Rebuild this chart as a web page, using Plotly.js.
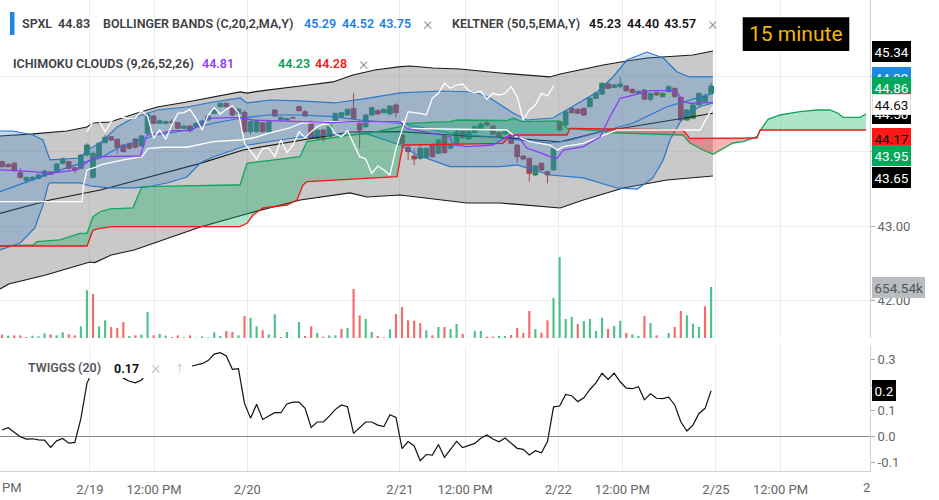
<!DOCTYPE html>
<html><head><meta charset="utf-8">
<script src="https://cdn.plot.ly/plotly-3.0.1.min.js"></script>
<style>html,body{margin:0;padding:0;background:#fff;}#chart{width:939px;height:500px;}</style>
</head><body><div id="chart"></div>
<script>
// ---- bar data (15 minute bars, index 0..117) ----
const open = [43.861,43.825,43.839,43.714,43.607,43.616,43.638,43.669,43.723,43.727,
43.839,43.861,43.781,43.772,43.950,43.651,43.928,44.115,44.196,44.160,
44.084,44.107,44.165,44.071,44.240,44.472,44.374,44.374,44.397,44.383,
44.307,44.338,44.330,44.352,44.419,44.508,44.597,44.642,44.584,44.508,
44.521,44.263,44.263,44.383,44.263,44.553,44.419,44.419,44.450,44.597,
44.530,44.397,44.173,44.285,44.196,44.397,44.463,44.486,44.575,44.374,
44.330,44.486,44.544,44.517,44.499,44.620,44.218,44.053,43.937,43.906,
43.919,44.084,43.973,44.196,44.040,44.107,44.263,44.165,44.249,44.307,
44.383,44.338,44.249,44.231,44.218,44.084,43.937,43.906,43.683,43.839,
43.727,43.750,44.397,44.352,44.575,44.562,44.575,44.597,44.709,44.767,
44.901,44.856,44.865,44.874,44.829,44.776,44.820,44.696,44.789,44.731,
44.798,44.843,44.722,44.419,44.441,44.620,44.664,44.776];
const high = [43.874,43.839,43.857,43.772,43.660,43.669,43.714,43.758,43.736,43.839,
43.919,43.874,43.794,43.959,44.107,43.995,44.129,44.218,44.205,44.173,
44.098,44.115,44.173,44.218,44.508,44.486,44.428,44.410,44.428,44.397,
44.347,44.352,44.397,44.419,44.486,44.575,44.651,44.651,44.597,44.575,
44.553,44.419,44.419,44.397,44.410,44.562,44.463,44.450,44.463,44.606,
44.553,44.410,44.294,44.307,44.365,44.517,44.530,44.575,44.776,44.419,
44.495,44.597,44.562,44.575,44.606,44.642,44.231,44.084,44.040,44.084,
44.053,44.107,44.173,44.218,44.098,44.285,44.272,44.272,44.352,44.397,
44.405,44.352,44.263,44.294,44.231,44.093,43.950,43.919,43.817,43.848,
43.741,44.071,44.410,44.544,44.588,44.575,44.588,44.722,44.794,44.919,
44.910,44.901,45.000,44.883,44.838,44.810,44.829,44.785,44.798,44.785,
44.887,44.852,44.731,44.562,44.633,44.785,44.776,44.919];
const low = [43.781,43.785,43.727,43.629,43.571,43.607,43.625,43.660,43.683,43.714,
43.825,43.758,43.705,43.763,43.928,43.638,43.919,44.107,44.138,43.973,
43.986,44.026,44.040,44.062,44.231,44.365,44.365,44.365,44.374,44.298,
44.298,44.249,44.321,44.343,44.410,44.499,44.588,44.588,44.477,44.499,
44.249,44.218,44.249,44.249,44.249,44.463,44.410,44.410,44.437,44.535,
44.463,44.165,44.151,44.129,44.187,44.383,44.455,44.477,44.419,44.040,
44.307,44.477,44.490,44.508,44.486,44.455,44.098,43.883,43.817,43.883,
43.906,43.915,43.964,43.964,44.026,44.084,44.169,44.151,44.240,44.298,
44.330,44.223,44.187,44.218,44.098,43.848,43.883,43.593,43.669,43.736,
43.571,43.741,44.276,44.338,44.508,44.499,44.472,44.588,44.700,44.754,
44.834,44.847,44.843,44.803,44.776,44.767,44.687,44.664,44.745,44.722,
44.789,44.722,44.397,44.410,44.432,44.611,44.651,44.767];
const close = [43.794,43.794,43.741,43.651,43.651,43.651,43.683,43.736,43.692,43.830,
43.897,43.772,43.750,43.950,44.084,43.973,44.107,44.187,44.151,44.053,
43.995,44.040,44.053,44.205,44.495,44.374,44.410,44.397,44.383,44.307,
44.338,44.276,44.374,44.405,44.472,44.562,44.642,44.597,44.486,44.562,
44.263,44.397,44.405,44.263,44.397,44.472,44.455,44.437,44.446,44.544,
44.472,44.173,44.285,44.160,44.352,44.508,44.517,44.562,44.441,44.285,
44.486,44.584,44.499,44.562,44.606,44.517,44.107,43.995,43.897,44.040,
44.040,43.928,44.151,43.982,44.084,44.263,44.182,44.263,44.330,44.365,
44.352,44.231,44.196,44.276,44.107,43.928,43.897,43.705,43.803,43.750,
43.683,44.040,44.285,44.530,44.517,44.508,44.486,44.709,44.776,44.910,
44.843,44.887,44.901,44.810,44.785,44.803,44.696,44.776,44.754,44.776,
44.865,44.731,44.419,44.553,44.620,44.776,44.740,44.874];
// volume in thousands, and up(1)/down(0) colouring
const volumeK = [43,30,34,34,13,30,21,60,47,34, 73,47,34,150,612,565,150,227,141,128,
205,26,34,43,334,34,51,30,13,34, 9,34,4,21,9,73,26,90,77,34,
282,257,150,98,47,304,13,77,4,205, 26,150,64,17,34,34,116,128,629,291,
244,77,26,9,111,308,398,227,222,193, 98,34,141,141,116,180,51,4,90,90,
17,17,26,26,38,128,64,347,116,68, 227,513,1040,244,270,180,218,244,90,261,
116,154,222,64,47,26,282,193,34,4, 64,141,347,291,184,141,406,654.54];
const volUp = [0,1,0,0,0,1,1,1,0,1, 1,0,0,1,1,0,1,1,0,0, 0,1,0,1,1,0,1,1,0,0,
1,0,1,1,1,1,1,0,0,1, 0,1,1,0,1,1,0,1,1,1, 0,0,1,0,1,1,0,1,0,0,
1,1,0,0,1,0,0,0,0,0, 1,0,1,0,1,1,0,1,1,1, 0,0,1,1,0,0,0,0,1,0,
0,1,1,1,1,0,1,1,1,1, 0,1,1,0,1,1,0,1,0,1, 1,0,0,1,1,1,0,1];
const twiggs = [0.026,0.035,0.017,0.0,-0.009,-0.008,-0.012,-0.013,-0.041,-0.016,
-0.007,-0.025,-0.022,0.07,0.207,0.26,0.28,0.29,0.27,0.25,
0.227,0.215,0.209,0.22,0.25,0.26,0.27,0.265,0.26,0.255,
0.26,0.272,0.278,0.283,0.295,0.32,0.326,0.313,0.261,0.264,
0.129,0.072,0.126,0.067,0.080,0.093,0.093,0.127,0.134,0.134,
0.110,0.036,0.057,0.057,0.080,0.106,0.123,0.116,0.013,0.036,
0.057,0.057,0.045,0.039,0.085,0.075,-0.046,-0.019,-0.036,-0.093,
-0.069,-0.071,-0.030,-0.080,-0.051,-0.018,-0.042,-0.033,-0.026,-0.006,
0.007,-0.009,-0.020,-0.005,-0.026,-0.045,-0.049,-0.071,-0.054,-0.062,
-0.019,0.116,0.119,0.164,0.159,0.136,0.151,0.183,0.209,0.246,
0.222,0.246,0.213,0.188,0.186,0.194,0.143,0.166,0.149,0.148,
0.153,0.123,0.058,0.022,0.045,0.090,0.110,0.178];

// ---- indicator polylines (x in bar index, y in price) ----
const keltUpX = [-0.35,5.1,10.7,14.0,15.0,17.8,22.3,25.6,30.5,33.8,39.3,40.4,43.7,49.2,54.6,57.9,61.5,65.7,67.3,71.1,75.6,82.2,90.4,92.1,99.2,103.1,106.4,114.0,117.3];
const keltUpY = [44.205,44.232,44.272,44.325,44.379,44.392,44.513,44.593,44.66,44.714,44.794,44.78,44.82,44.874,44.928,45.021,45.088,45.133,45.142,45.115,45.102,45.048,44.995,45.035,45.155,45.209,45.249,45.289,45.343];
const keltMidX = [-0.35,7.9,16.2,24.4,32.7,39.8,49.2,57.4,65.7,76.7,82.2,92.1,98.7,104.1,112.4,117.3];
const keltMidY = [43.17,43.348,43.482,43.66,43.839,44.017,44.151,44.258,44.262,44.205,44.187,44.128,44.262,44.329,44.442,44.509];
const keltLoX = [-0.35,1.1,7.2,14.5,15.3,18.0,21.8,32.7,40.9,49.2,57.4,60.2,65.7,76.7,82.2,92.1,95.9,102.5,109.7,117.3];
const keltLoY = [42.157,42.224,42.344,42.518,42.511,42.612,42.679,42.987,43.174,43.348,43.442,43.388,43.415,43.308,43.308,43.241,43.348,43.509,43.616,43.669];
const bbUpX = [-0.35,1.8,5.1,6.75,7.9,12.9,14.0,16.2,19.0,21.6,25.6,30.5,34.8,39.3,40.4,44.2,49.2,54.9,60.7,65.7,72.3,78.0,80.5,84.3,86.6,90.9,93.7,98.2,100.8,103.1,106.4,109.1,111.4,113.5,117.3];
const bbUpY = [44.272,44.272,44.218,44.151,43.884,43.91,44.017,44.111,44.325,44.446,44.553,44.593,44.66,44.714,44.647,44.687,44.674,44.647,44.714,44.781,44.807,44.794,44.714,44.513,44.419,44.446,44.58,44.794,44.995,45.222,45.329,45.249,45.061,44.995,44.995];
const bbLoX = [-0.35,3.0,5.4,6.75,7.6,7.9,12.9,14.5,17.8,21.6,23.9,27.2,30.5,32.7,34.8,38.1,40.6,43.7,49.2,54.6,57.4,60.2,65.7,68.5,73.9,82.2,85.0,90.4,95.9,101.5,104.8,107.4,109.1,110.2,112.4,115.2,117.3];
const bbLoY = [42.679,42.772,42.973,43.281,43.549,43.576,43.576,43.535,43.509,43.509,43.522,43.576,43.656,43.843,43.924,44.017,44.084,44.124,44.191,44.218,44.218,44.232,44.084,43.951,43.794,43.794,43.817,43.683,43.643,43.509,43.495,43.643,43.884,44.151,44.459,44.60,44.646];
const bbMidX = [-0.35,4.1,7.9,12.9,16.2,19.0,22.8,25.6,30.5,34.8,39.3,43.7,49.2,54.6,59.1,65.7,73.9,82.2,90.4,93.2,98.7,104.1,109.7,115.2,117.3];
const bbMidY = [43.459,43.593,43.705,43.839,43.910,44.040,44.151,44.218,44.285,44.375,44.442,44.486,44.486,44.463,44.419,44.375,44.245,44.178,44.111,44.138,44.262,44.375,44.597,44.731,44.776];
const tenkanX = [-0.35,5.1,7.9,12.4,13.4,14.5,16.2,22.8,23.9,25.6,28.2,31.0,32.7,34.0,38.1,39.8,41.4,49.2,54.6,57.4,65.7,66.8,73.9,74.4,76.7,81.0,83.3,85.0,86.6,88.3,90.4,91.6,92.6,95.9,98.7,100.3,102.0,105.3,106.9,110.2,111.5,112.4,113.5,117.3];
const tenkanY = [43.75,43.727,43.705,43.75,43.817,43.884,43.928,43.937,44.218,44.232,44.276,44.276,44.352,44.442,44.455,44.442,44.419,44.396,44.383,44.396,44.396,44.308,44.195,44.084,44.062,44.084,44.195,44.218,44.040,43.995,43.928,43.906,44.017,44.062,44.195,44.463,44.71,44.776,44.811,44.811,44.776,44.664,44.643,44.651];
const kijunX = [-0.35,13.2,13.4,14.0,15.7,16.2,20.0,23.1,24.1,26.6,30.5,34.8,39.3,41.4,44.2,47.5,49.5,54.9,66.2,66.8,83.3,84.3,87.1,90.4,91.6,92.6,95.9,99.2,101.5,115.2,116.3,117.3];
const kijunY = [43.325,43.325,43.526,43.75,43.794,43.817,43.884,43.928,44.040,44.054,44.054,44.129,44.151,44.178,44.245,44.312,44.379,44.396,44.396,44.308,44.285,44.218,44.129,44.084,44.017,44.062,44.107,44.218,44.285,44.285,44.442,44.597];
const ichiX = [-0.35,5.1,5.76,9.55,12.85,14.01,15.0,16.16,17.81,18.3,21.6,22.26,23.09,38.1,39.26,40.41,41.4,43.05,47.0,48.66,49.16,49.65,50.31,57.41,60.71,65.17,65.66,66.16,66.82,73.91,75.07,82.66,83.32,83.81,84.31,85.96,92.06,93.22,93.71,99.16,99.82,112.36,113.51,115.66,117.31,120.61,122.26,124.57,125.07,126.39,128.37,131.67,134.48,136.62,137.94,138.77,141.58,142.57];
const spanA = [42.732,42.746,42.790,42.813,42.902,42.902,43.124,43.191,43.228,43.230,43.241,43.375,43.526,43.549,43.549,43.839,43.850,43.866,43.906,43.924,43.928,44.017,44.129,44.218,44.245,44.321,44.329,44.352,44.375,44.396,44.419,44.412,44.410,44.426,44.442,44.396,44.406,44.308,44.305,44.272,44.249,44.218,44.111,44.017,43.960,44.111,44.129,44.195,44.272,44.428,44.486,44.530,44.553,44.553,44.509,44.455,44.455,44.499];
const spanB = [42.732,42.732,42.732,42.732,42.732,42.732,42.946,42.969,42.987,42.991,42.991,42.991,42.991,42.991,42.991,43.036,43.147,43.241,43.281,43.348,43.455,43.549,43.593,43.625,43.640,43.660,43.884,44.084,44.084,44.091,44.094,44.107,44.165,44.218,44.218,44.218,44.218,44.218,44.308,44.301,44.300,44.285,44.174,44.174,44.174,44.177,44.178,44.178,44.285,44.285,44.285,44.285,44.285,44.285,44.285,44.285,44.285,44.285];
const chikouShift = 26, chikouStart = 40;

// ---- axis ticks ----
const tickPos = [14.5,25.07,40.46,65.66,76.39,91.78,102.34,117.8,128.46];
const tickText = ['2/19','12:00 PM','2/20','2/21','12:00 PM','2/22','12:00 PM','2/25','12:00 PM'];

const bars = open.map((_, i) => i);
const ichiMax = spanA.map((a, i) => Math.max(a, spanB[i]));
const chX = [], chY = [];
for (let i = chikouStart; i < close.length; i++) { chX.push(i - chikouShift); chY.push(close[i]); }

const BLUE = '#2a78c8';
const traces = [
  {x:keltLoX, y:keltLoY, mode:'lines', line:{color:'#1a1a1a', width:1.2}, hoverinfo:'skip'},
  {x:keltUpX, y:keltUpY, mode:'lines', fill:'tonexty', fillcolor:'rgba(120,120,120,0.40)', line:{color:'#1a1a1a', width:1.2}, hoverinfo:'skip'},
  {x:keltMidX, y:keltMidY, mode:'lines', line:{color:'#1a1a1a', width:1.2}, hoverinfo:'skip'},
  {x:bbLoX, y:bbLoY, mode:'lines', line:{color:BLUE, width:1.2}, hoverinfo:'skip'},
  {x:bbUpX, y:bbUpY, mode:'lines', fill:'tonexty', fillcolor:'rgba(60,125,200,0.30)', line:{color:BLUE, width:1.2}, hoverinfo:'skip'},
  {x:bbMidX, y:bbMidY, mode:'lines', line:{color:BLUE, width:1.2}, hoverinfo:'skip'},
  {x:ichiX, y:spanB, mode:'lines', line:{width:0, color:'rgba(0,0,0,0)'}, hoverinfo:'skip'},
  {x:ichiX, y:ichiMax, mode:'lines', fill:'tonexty', fillcolor:'rgba(0,170,90,0.32)', line:{width:0, color:'rgba(0,0,0,0)'}, hoverinfo:'skip'},
  {x:ichiX, y:spanA, mode:'lines', line:{width:0, color:'rgba(0,0,0,0)'}, hoverinfo:'skip'},
  {x:ichiX, y:ichiMax, mode:'lines', fill:'tonexty', fillcolor:'rgba(240,45,45,0.36)', line:{width:0, color:'rgba(0,0,0,0)'}, hoverinfo:'skip'},
  {x:ichiX, y:spanA, mode:'lines', line:{color:'#13a55c', width:1.3}, hoverinfo:'skip'},
  {x:ichiX, y:spanB, mode:'lines', line:{color:'#f01818', width:1.3}, hoverinfo:'skip'},
  {x:kijunX, y:kijunY, mode:'lines', line:{color:'#ffffff', width:1.3}, hoverinfo:'skip'},
  {x:tenkanX, y:tenkanY, mode:'lines', line:{color:'#8c3cf5', width:1.3}, hoverinfo:'skip'},
  {x:chX, y:chY, mode:'lines', line:{color:'#ffffff', width:1.3}, hoverinfo:'skip'},
  {type:'candlestick', x:bars, open:open, high:high, low:low, close:close,
   increasing:{line:{color:'#0b8a55', width:1}, fillcolor:'#0b8a55'},
   decreasing:{line:{color:'#b3283c', width:1}, fillcolor:'#b3283c'},
   whiskerwidth:0, hoverinfo:'skip'},
  {type:'bar', x:bars, y:volumeK, yaxis:'y3', width:0.36,
   marker:{color:volUp.map(u => u ? '#4fc18c' : '#f46d6d'), line:{width:0}}, hoverinfo:'skip'},
  {x:bars, y:twiggs, xaxis:'x2', yaxis:'y2', mode:'lines', line:{color:'#111', width:1.2}, hoverinfo:'skip'}
];

const PW = 870, PH = 471;
const px = v => v / PW, py = v => 1 - v / PH;
const FONT = 'Roboto, Arial, sans-serif';
const anns = [];
function txt(t, x, y, color, size, weight, anchor) {
  anns.push({text:t, xref:'paper', yref:'paper', x:px(x), y:py(y), xanchor:anchor||'left', yanchor:'middle',
    showarrow:false, font:{family:FONT, size:size||12.5, color:color, weight:weight||600}});
}
const HG = '#3d4045';
txt('SPXL', 20, 24, HG); txt('44.83', 56, 24, HG);
txt('BOLLINGER BANDS (C,20,2,MA,Y)', 100.7, 24, HG);
txt('45.29', 301.7, 24, '#1a7fe6'); txt('44.52', 340, 24, '#1a7fe6'); txt('43.75', 376.7, 24, '#1a7fe6');
txt('×', 427.7, 24, '#8a8a8a', 18, 300, 'center');
txt('KELTNER (50,5,EMA,Y)', 450, 24, HG);
txt('45.23', 586.7, 24, '#111'); txt('44.40', 625, 24, '#111'); txt('43.57', 661.7, 24, '#111');
txt('×', 712.3, 24, '#8a8a8a', 18, 300, 'center');
txt('ICHIMOKU CLOUDS (9,26,52,26)', 10.7, 63.3, HG);
txt('44.81', 200, 63.3, '#9440f5'); txt('44.23', 276, 63.3, '#0a9d58'); txt('44.28', 313.3, 63.3, '#f01c1c');
txt('×', 363.3, 63.3, '#8a8a8a', 18, 300, 'center');
txt('15 minute', 796, 34.2, '#f2b705', 21, 400, 'center');
txt('TWIGGS (20)', 26, 367, '#55585d', 12.5, 600);
txt('0.17', 111.7, 368, '#111', 12.5, 700);
txt('×', 155, 367, '#bdbdbd', 18, 300, 'center');
txt('↑', 180, 367, '#bdbdbd', 15, 400, 'center');
txt('PM', 12, 487, '#666', 13, 400, 'center');
txt('2', 866, 487, '#666', 13, 400, 'center');

function tag(t, yv, yref, bg, fg, border) {
  anns.push({text:t, xref:'paper', yref:yref, x:px(872), y:yv, xanchor:'left', yanchor:'middle', showarrow:false,
    bgcolor:bg, bordercolor:border||bg, borderwidth:1, borderpad:1.5, font:{family:FONT, size:13.5, color:fg}});
}
tag('45.34', 45.34, 'y', '#000', '#fff');
tag('44.99', 44.99, 'y', '#1e88e5', '#fff');
tag('44.86', 44.86, 'y', '#00a85a', '#fff');
tag('44.50', 44.50, 'y', '#000', '#fff');
tag('44.63', 44.63, 'y', '#fff', '#111', '#dddddd');
tag('44.17', 44.17, 'y', '#ff1717', '#111');
tag('43.95', 43.95, 'y', '#00a85a', '#fff');
tag('43.65', 43.65, 'y', '#000', '#fff');
tag('654.54k', 654.54, 'y3', '#b9bcc3', '#555');
tag('0.2', 0.178, 'y2', '#000', '#fff');

const shapes = [
  {type:'rect', xref:'paper', yref:'paper', x0:px(10), x1:px(14.5), y0:py(12), y1:py(35), fillcolor:'#1e88e5', line:{width:0}, layer:'above'},
  {type:'rect', xref:'paper', yref:'paper', x0:px(742.7), x1:px(849.3), y0:py(17.3), y1:py(51), fillcolor:'#000', line:{width:0}, layer:'above'},
  {type:'rect', xref:'paper', yref:'paper', x0:px(18), x1:px(192), y0:py(349), y1:py(378), fillcolor:'#fff', line:{width:0}, layer:'above'},
  {type:'line', xref:'x2', yref:'paper', x0:14.5, x1:14.5, y0:py(349), y1:py(378.5), line:{color:'#ebebeb', width:1}, layer:'above'},
  {type:'line', xref:'x2', yref:'paper', x0:25.07, x1:25.07, y0:py(349), y1:py(378.5), line:{color:'#ebebeb', width:1}, layer:'above'}
];

const xMin = -0.3465, xMax = 143.22;
const layout = {
  width:939, height:500, margin:{l:0, r:69, t:0, b:29},
  paper_bgcolor:'#fff', plot_bgcolor:'#fff', showlegend:false,
  font:{family:FONT, size:13, color:'#666'},
  boxgap:0.15, boxgroupgap:0.1,
  xaxis:{domain:[0,1], range:[xMin,xMax], anchor:'y', tickvals:tickPos, showticklabels:false,
    showgrid:true, gridcolor:'#ebebeb', zeroline:false, ticks:'', rangeslider:{visible:false}, fixedrange:true},
  xaxis2:{domain:[0,1], range:[xMin,xMax], anchor:'y2', tickvals:tickPos, ticktext:tickText,
    showgrid:true, gridcolor:'#ebebeb', zeroline:false, showline:true, linecolor:'#cfcfcf',
    ticks:'outside', ticklen:6, tickcolor:'rgba(0,0,0,0)', tickfont:{family:FONT, size:13, color:'#666'}},
  yaxis:{domain:[0.28238,1], range:[41.5006,46.0254], anchor:'x', side:'right',
    tickvals:[42,43,44,45], ticktext:['42.00','43.00','44.00','45.00'],
    showgrid:true, gridcolor:'#eeeeee', zeroline:false, showline:true, linecolor:'#cfcfcf',
    ticks:'outside', ticklen:4, tickcolor:'#aaa', tickfont:{family:FONT, size:13, color:'#666'}},
  yaxis2:{domain:[0,0.26539], range:[-0.1329,0.3516], anchor:'x2', side:'right',
    tickvals:[-0.1,0,0.1,0.2,0.3], ticktext:['-0.1','0.0','0.1','0.2','0.3'],
    showgrid:false, zeroline:true, zerolinecolor:'#8a8a8a', zerolinewidth:1, showline:true, linecolor:'#cfcfcf',
    ticks:'outside', ticklen:4, tickcolor:'#aaa', tickfont:{family:FONT, size:13, color:'#666'}},
  yaxis3:{overlaying:'y', anchor:'x', range:[0,4338], visible:false, fixedrange:true},
  annotations:anns, shapes:shapes
};
Plotly.newPlot('chart', traces, layout, {staticPlot:true, displayModeBar:false});
</script></body></html>
